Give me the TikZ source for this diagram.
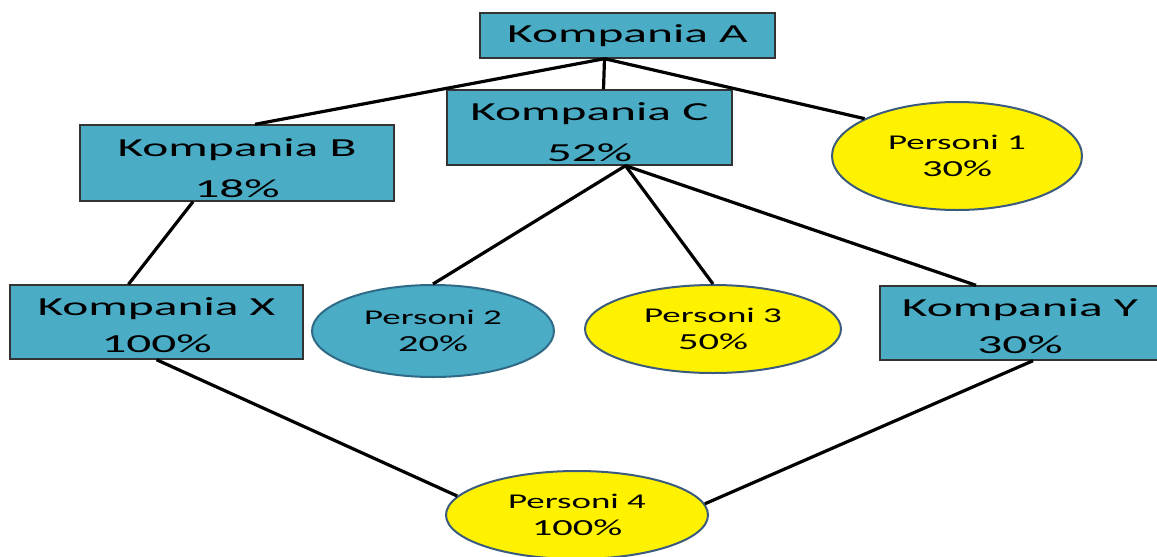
\documentclass[tikz,border=0pt]{standalone}
\usepackage{fontspec}
\usepackage{xcolor}
\usepackage{tikz}
\usetikzlibrary{shapes.geometric}
\newfontfamily\kfont[FakeStretch=1.9]{Carlito}
\newfontfamily\pfont[FakeStretch=1.76]{Carlito}
\definecolor{teal}{HTML}{4BACC6}
\definecolor{edgeblue}{HTML}{3A5A7E}
\definecolor{edgeteal}{HTML}{2F6A86}
\newcommand{\pct}[1]{{\fontsize{23}{27}\selectfont #1}}
\newcommand{\pushdown}[1]{\rule{0pt}{#1}} % pushes the text block down

\begin{document}
\begin{tikzpicture}[x=1pt,y=-1pt,
  firm/.style={draw=black!80, line width=1.4pt, fill=teal, rectangle, inner sep=0pt,
    align=center, font={\kfont\fontsize{26}{41}\selectfont}},
  person/.style={draw=edgeblue, line width=2pt, fill=yellow, ellipse, inner sep=0pt,
    align=center, font={\pfont\fontsize{21}{27}\selectfont}},
  link/.style={line width=3.2pt, black}]
\useasboundingbox (0,0) rectangle (1157,557);

% Companies
\node[firm, minimum width=295, minimum height=45] (A) at (627.5,35.5) {Kompania A};
\node[firm, minimum width=285, minimum height=75] (C) at (589.5,127.5) {\pushdown{28pt}Kompania C\\52\%};
\node[firm, minimum width=314, minimum height=76] (B) at (237,163) {\pushdown{28pt}Kompania B\\18\%};
\node[firm, minimum width=293, minimum height=74] (X) at (156.5,322) {\pushdown{25pt}Kompania X\\[-4pt]100\%};
\node[firm, minimum width=280, minimum height=74] (Y) at (1020,323) {\pushdown{25pt}Kompania Y\\[-4pt]30\%};

% Persons
\node[person, minimum width=250, minimum height=108] (P1) at (957,156) {Personi 1\\\pct{30\%}};
\node[person, fill=teal, draw=edgeteal, minimum width=242, minimum height=92] (P2) at (433,331) {Personi 2\\\pct{20\%}};
\node[person, minimum width=256, minimum height=88] (P3) at (713,329) {Personi 3\\\pct{50\%}};
\node[person, minimum width=262, minimum height=88] (P4) at (577,515) {Personi 4\\\pct{100\%}};

% Hubs under A and C
\coordinate (Ahub) at ([xshift=-23]A.south);
\coordinate (Chub) at ([xshift=36]C.south);

% Links
\draw[link] (Ahub) -- ([xshift=18]B.north);
\draw[link] (Ahub) -- ([xshift=14]C.north);
\draw[link] (Ahub) -- (P1.158);
\draw[link] ([xshift=-44]B.south) -- ([xshift=-28]X.north);
\draw[link] (Chub) -- (P2.north);
\draw[link] (Chub) -- (P3.north);
\draw[link] (Chub) -- ([xshift=-44]Y.north);
\draw[link] (X.south) -- (P4.171);
\draw[link] ([xshift=13]Y.south) -- (P4.5);

\end{tikzpicture}
\end{document}
